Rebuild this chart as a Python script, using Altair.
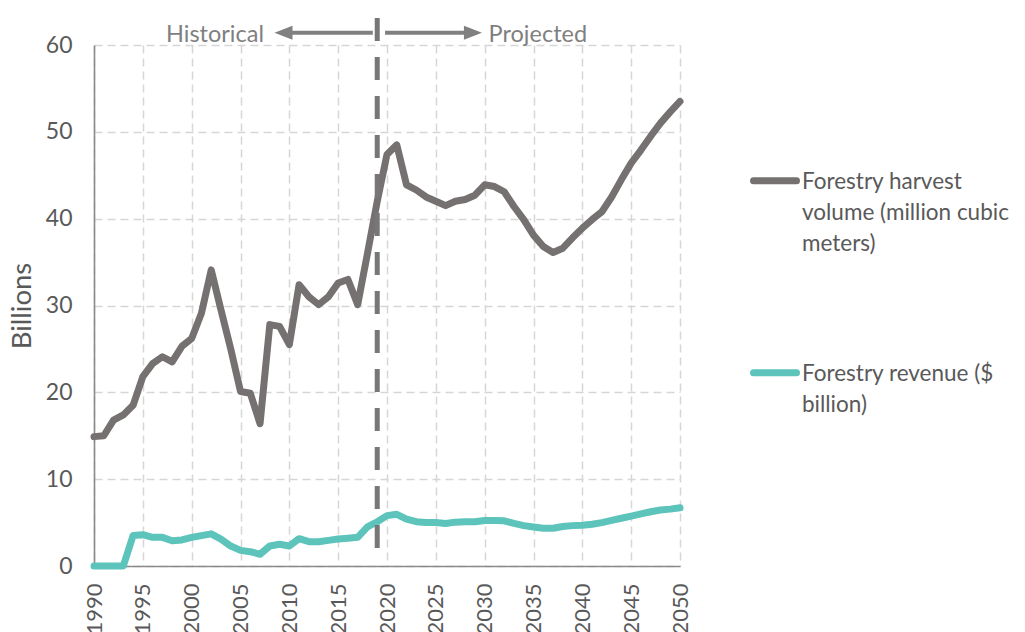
import altair as alt
import pandas as pd

# ---- data -------------------------------------------------------------
years = list(range(1990, 2051))

harvest = [
    14.9, 15.0, 16.8, 17.4, 18.5, 21.8, 23.3, 24.1, 23.5, 25.3,
    26.2, 29.1, 34.1, 29.5, 25.0, 20.1, 19.9, 16.4, 27.8, 27.6,
    25.5, 32.4, 31.0, 30.1, 31.0, 32.6, 33.0, 30.1, 36.0, 42.0,
    47.4, 48.5, 43.9, 43.3, 42.5, 42.0, 41.5, 42.0, 42.2, 42.7,
    43.9, 43.7, 43.1, 41.4, 39.9, 38.1, 36.8, 36.1, 36.6, 37.8,
    38.9, 39.9, 40.8, 42.5, 44.5, 46.4, 47.9, 49.5, 51.0, 52.3, 53.5,
]

revenue = [
    0.0, 0.0, 0.0, 0.0, 3.5, 3.6, 3.3, 3.3, 2.9, 3.0,
    3.3, 3.5, 3.7, 3.1, 2.3, 1.8, 1.65, 1.35, 2.3, 2.5,
    2.3, 3.15, 2.8, 2.8, 2.95, 3.1, 3.2, 3.3, 4.5, 5.1,
    5.8, 5.95, 5.4, 5.1, 5.0, 5.0, 4.9, 5.05, 5.1, 5.1,
    5.25, 5.25, 5.2, 4.9, 4.65, 4.5, 4.35, 4.35, 4.55, 4.65,
    4.7, 4.8, 5.0, 5.25, 5.5, 5.75, 6.0, 6.25, 6.45, 6.55, 6.7,
]

series_names = [
    "Forestry harvest volume (million cubic meters)",
    "Forestry revenue ($ billion)",
]
series_colors = ["#767171", "#5cc4bb"]
legend_lines = [
    ["Forestry harvest", "volume (million cubic", "meters)"],
    ["Forestry revenue ($", "billion)"],
]

x_ticks = list(range(1990, 2051, 5))
y_ticks = list(range(0, 61, 10))
y_title = "Billions"

# boundary between historical and projected values
divider_year = 2019
divider_top, divider_bottom = 63.1, 1.85

period_labels = ["Historical", "Projected"]
period_label_x = [2007.4, 2030.4]
period_label_y = 61.15

arrow_y = 61.4
arrow_shaft_start = [2009.4, 2019.8]
arrow_shaft_end = [2018.55, 2028.8]
arrow_head_x = [2009.4, 2028.8]

# ---- tables -----------------------------------------------------------
lines_df = pd.DataFrame({
    "year": years * 2,
    "value": harvest + revenue,
    "series": [series_names[0]] * len(years) + [series_names[1]] * len(years),
})
divider_df = pd.DataFrame({"year": [divider_year], "top": [divider_top], "bottom": [divider_bottom]})
shaft_df = pd.DataFrame({"x1": arrow_shaft_start, "x2": arrow_shaft_end, "y": [arrow_y] * 2})
head_left_df = pd.DataFrame({"x": [arrow_head_x[0]], "y": [arrow_y]})
head_right_df = pd.DataFrame({"x": [arrow_head_x[1]], "y": [arrow_y]})
hist_df = pd.DataFrame({"x": [period_label_x[0]], "y": [period_label_y], "t": [period_labels[0]]})
proj_df = pd.DataFrame({"x": [period_label_x[1]], "y": [period_label_y], "t": [period_labels[1]]})

# ---- scales & axes ----------------------------------------------------
FONT = "Lato"
TEXT = "#595959"
x_scale = alt.Scale(domain=[1990, 2050], nice=False, zero=False)
y_scale = alt.Scale(domain=[0, 60], nice=False)

x_axis = alt.Axis(
    values=x_ticks, format="d", labelAngle=-90, labelPadding=17,
    labelFlush=False, labelOverlap=False, title=None,
)
y_axis = alt.Axis(values=y_ticks, labelPadding=22, title=y_title, titlePadding=9)


def xq(field):
    return alt.X(field, type="quantitative", scale=x_scale, title=None)


def yq(field):
    return alt.Y(field, type="quantitative", scale=y_scale, title=y_title)


# ---- layers -----------------------------------------------------------
series_lines = alt.Chart(lines_df).mark_line(
    strokeWidth=7, strokeCap="round", strokeJoin="round"
).encode(
    x=alt.X("year:Q", scale=x_scale, axis=x_axis),
    y=alt.Y("value:Q", scale=y_scale, axis=y_axis),
    color=alt.Color("series:N", scale=alt.Scale(domain=series_names, range=series_colors), legend=None),
)

divider = alt.Chart(divider_df).mark_rule(
    color="#777777", strokeWidth=5, strokeDash=[23, 16]
).encode(x=xq("year"), y=yq("top"), y2="bottom:Q")

shafts = alt.Chart(shaft_df).mark_rule(color="#808080", strokeWidth=4).encode(
    x=xq("x1"), x2="x2:Q", y=yq("y")
)

head_left = alt.Chart(head_left_df).mark_point(
    shape="M1,-0.78L-1,0L1,0.78Z", size=324, filled=True, opacity=1, color="#808080"
).encode(x=xq("x"), y=yq("y"))

head_right = alt.Chart(head_right_df).mark_point(
    shape="M-1,-0.78L1,0L-1,0.78Z", size=324, filled=True, opacity=1, color="#808080"
).encode(x=xq("x"), y=yq("y"))

hist_text = alt.Chart(hist_df).mark_text(
    align="right", baseline="middle", font=FONT, fontSize=23.5, color="#7f7f7f"
).encode(x=xq("x"), y=yq("y"), text="t:N")

proj_text = alt.Chart(proj_df).mark_text(
    align="left", baseline="middle", font=FONT, fontSize=23.5, color="#7f7f7f"
).encode(x=xq("x"), y=yq("y"), text="t:N")

# ---- legend (to the right of the plot, in pixels from the plot origin) --
legend_symbol_x = (659.5, 702.5)
legend_label_x = 708
legend_row_y = [135.7, 327.7]

legend_layers = []
for name, color, lines, row_y in zip(series_names, series_colors, legend_lines, legend_row_y):
    entry_df = pd.DataFrame({"series": [name], "label": ["\n".join(lines)]})
    swatch = alt.Chart(entry_df).mark_rule(
        color=color, strokeWidth=7, strokeCap="round"
    ).encode(
        x=alt.value(legend_symbol_x[0]), x2=alt.value(legend_symbol_x[1]), y=alt.value(row_y)
    )
    label = alt.Chart(entry_df).mark_text(
        align="left", baseline="alphabetic", font=FONT, fontSize=22.5, color=TEXT,
        lineBreak="\n", lineHeight=31,
    ).encode(
        x=alt.value(legend_label_x), y=alt.value(row_y + 8), text="label:N"
    )
    legend_layers += [swatch, label]

chart = alt.layer(
    series_lines, divider, shafts, head_left, head_right, hist_text, proj_text, *legend_layers
).properties(
    width=586,
    height=521,
    autosize=alt.AutoSizeParams(type="none"),
    padding={"left": 94, "top": 45, "right": 345, "bottom": 66},
    background="white",
).configure_view(
    stroke=None
).configure_axis(
    labelFont=FONT, labelColor=TEXT,
    titleFont=FONT, titleFontWeight="normal", titleColor=TEXT,
    ticks=False, tickSize=0, domainColor="#8a8a8a", domainWidth=1.6,
    grid=True, gridDash=[8, 5], gridColor="#d6d6d6", gridWidth=1.5,
).configure_axisX(
    labelFontSize=22
).configure_axisY(
    labelFontSize=23, titleFontSize=27.5
)

chart.save("out.html", embed_options={"renderer": "svg", "actions": False})
